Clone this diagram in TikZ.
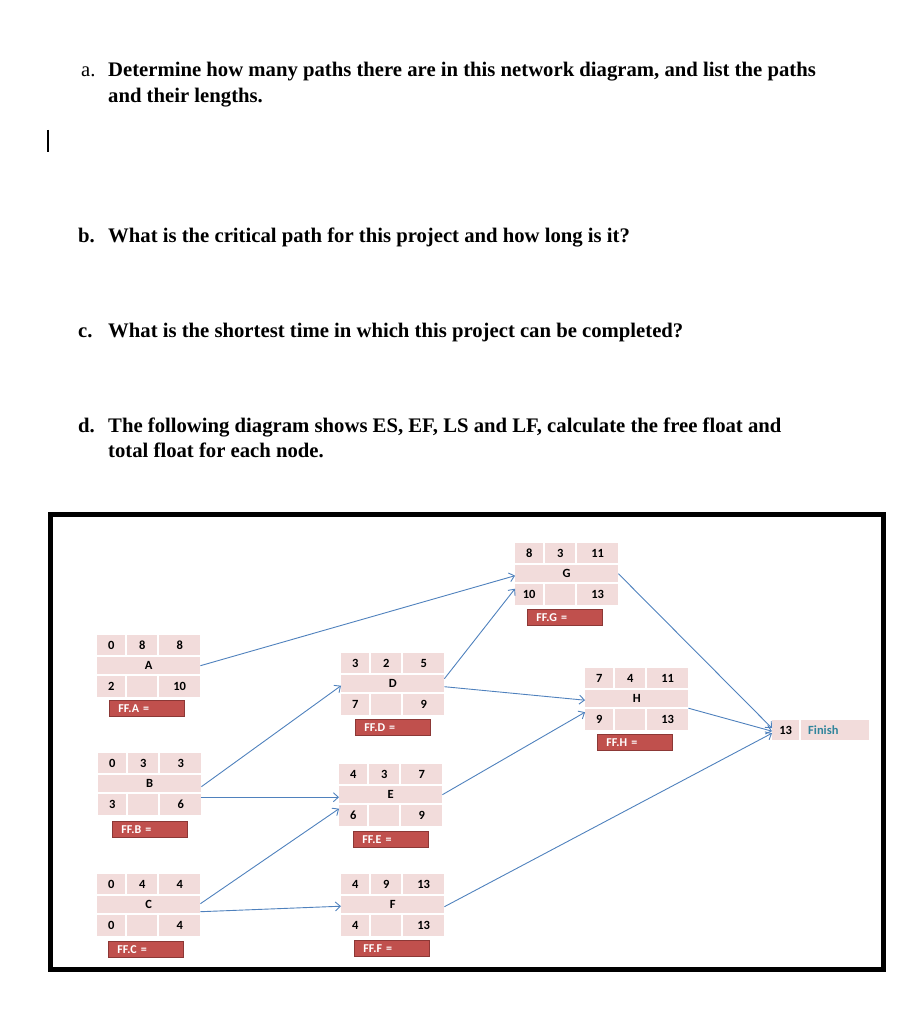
\documentclass[tikz,border=0pt]{standalone}
\usepackage{fontspec}
\setmainfont{Liberation Serif}
\newfontfamily\cellfont{Carlito}
\usetikzlibrary{arrows.meta}
\definecolor{cellpink}{HTML}{F2DCDB}
\definecolor{ffred}{HTML}{C0504D}
\definecolor{ffborder}{HTML}{8C3836}
\definecolor{arrowblue}{HTML}{4F81BD}
\definecolor{finishteal}{HTML}{31859C}
\tikzset{
  cell/.style={fill=cellpink, inner sep=0pt, anchor=north west,
    font=\cellfont\bfseries\fontsize{12.5}{12.5}\selectfont, text=black},
  ffbox/.style={fill=ffred, draw=ffborder, line width=0.8pt, inner sep=0pt,
    anchor=north west, text width=75pt, minimum height=16pt, align=left,
    font=\cellfont\bfseries\fontsize{12}{12}\selectfont, text=white},
  link/.style={draw=arrowblue, line width=0.9pt, -{Straight Barb[length=5pt,width=9pt]}},
  qtext/.style={anchor=base west, inner sep=0pt, font=\fontsize{20.7}{20.7}\selectfont\bfseries},
  qlabel/.style={anchor=base west, inner sep=0pt, font=\fontsize{20.7}{20.7}\selectfont},
}
\newcommand\pertnode[8]{%
  \node[cell, minimum width=28pt, minimum height=20pt] (#1-es) at (#2,#3) {#4};
  \node[cell, minimum width=30pt, minimum height=20pt] (#1-du) at (#2+30,#3) {#5};
  \node[cell, minimum width=41pt, minimum height=20pt] (#1-ef) at (#2+62,#3) {#6};
  \node[cell, minimum width=103pt, minimum height=17pt] (#1) at (#2,#3+22) {#1};
  \node[cell, minimum width=28pt, minimum height=21pt] (#1-ls) at (#2,#3+41) {#7};
  \node[cell, minimum width=30pt, minimum height=21pt] (#1-sl) at (#2+30,#3+41) {};
  \node[cell, minimum width=41pt, minimum height=21pt] (#1-lf) at (#2+62,#3+41) {#8};
}
\newcommand\ffnode[3]{%
  \node[ffbox] (#1-ff) at (#2,#3) {\hspace*{9pt}FF.#1 =};
}
\begin{document}
\begin{tikzpicture}[x=1pt,y=-1pt]
\useasboundingbox (0,0) rectangle (916,1024);

% questions
\node[qlabel] (qa-l) at (81,77) {a.};
\node[qtext] (qa1) at (108,77) {Determine how many paths there are in this network diagram, and list the paths};
\node[qtext] (qa2) at (108,103) {and their lengths.};
\draw[line width=2pt] (47.5,130) -- (47.5,152);
\node[qtext] (qb-l) at (78,243) {b.};
\node[qtext] (qb1) at (108,243) {What is the critical path for this project and how long is it?};
\node[qtext] (qc-l) at (78,337) {c.};
\node[qtext] (qc1) at (108,337) {What is the shortest time in which this project can be completed?};
\node[qtext] (qd-l) at (78,432) {d.};
\node[qtext] (qd1) at (108,432) {The following diagram shows ES, EF, LS and LF, calculate the free float and};
\node[qtext] (qd2) at (108,457) {total float for each node.};

% frame
\draw[line width=4.5pt] (50.5,514.5) rectangle (883.5,969.5);

% nodes
\pertnode{A}{97}{635}{0}{8}{8}{2}{10}
\ffnode{A}{109}{700}
\pertnode{B}{98}{753}{0}{3}{3}{3}{6}
\ffnode{B}{112}{821}
\pertnode{C}{97}{874}{0}{4}{4}{0}{4}
\ffnode{C}{108}{941}
\pertnode{D}{341}{653}{3}{2}{5}{7}{9}
\ffnode{D}{355}{719}
\pertnode{E}{339}{764}{4}{3}{7}{6}{9}
\ffnode{E}{353}{831}
\pertnode{F}{341}{874}{4}{9}{13}{4}{13}
\ffnode{F}{354}{940}
\pertnode{G}{515}{543}{8}{3}{11}{10}{13}
\ffnode{G}{527}{609}
\pertnode{H}{585}{668}{7}{4}{11}{9}{13}
\ffnode{H}{597}{734}
\node[cell, minimum width=27pt, minimum height=20pt] (Fin) at (772,720) {13};
\node[cell, minimum width=68pt, minimum height=20pt, text=finishteal] (Finish) at (801,720) {\makebox[68pt][l]{\hspace*{7pt}Finish}};

% connectors
\draw[link] (A.east) -- ([yshift=-2pt]G.west);
\draw[link] ([yshift=-3pt]B.east) -- ([yshift=-2pt]D.west);
\draw[link] ([yshift=-13.5pt]B.east) -- ([yshift=-2.5pt]E.west);
\draw[link] ([yshift=1pt]C.east) -- ([yshift=-14pt]E.west);
\draw[link] ([yshift=-7pt]C.east) -- ([yshift=-1.5pt]F.west);
\draw[link] ([yshift=5pt]D.east) -- ([yshift=-15pt]G.west);
\draw[link] ([yshift=-3pt]D.east) -- ([yshift=-1.5pt]H.west);
\draw[link] (E.east) -- ([yshift=-13.5pt]H.west);
\draw[link] (G.east) -- ([yshift=2pt]Fin.west);
\draw[link] ([yshift=-9.5pt]H.east) -- ([yshift=-1pt]Fin.west);
\draw[link] ([yshift=-2pt]F.east) -- ([yshift=-3pt]Fin.west);
\end{tikzpicture}
\end{document}
